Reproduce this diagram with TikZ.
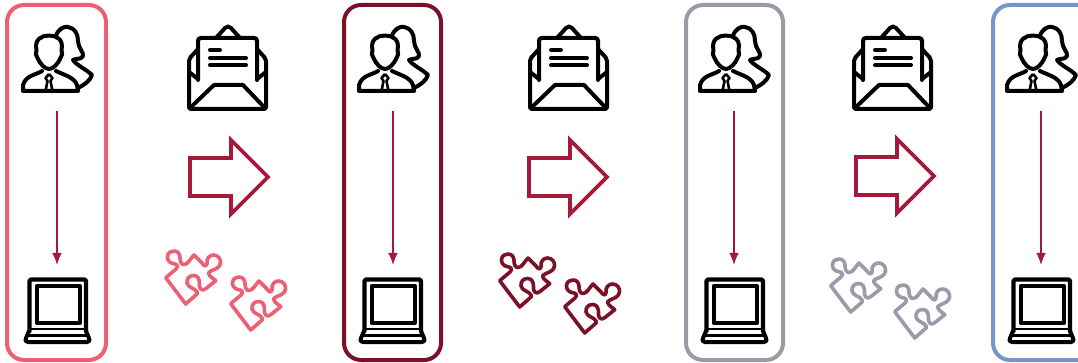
\documentclass[tikz,border=0pt]{standalone}
\usetikzlibrary{arrows.meta}
\definecolor{cpink}{HTML}{EC5F74}
\definecolor{cwine}{HTML}{7A1128}
\definecolor{cgrey}{HTML}{9A9AA8}
\definecolor{cblue}{HTML}{7A93C8}
\definecolor{cred}{HTML}{A5193A}
\tikzset{
  panel/.style={line width=4pt,rounded corners=17pt},
  link/.style={draw=cred,line width=1.3pt,-{Latex[length=12pt,width=9.5pt]}},
  icon/.style={line width=4pt,line cap=round,line join=round,black},
  bigarrow/.style={draw=cred,line width=3.8pt,line join=miter},
  puzz/.style={line width=3.6pt,line join=round,line cap=round},
  pics/person/.style={code={
    \draw[icon] (56,36) .. controls (58,29) and (64,26) .. (68,27) .. controls (75,28) and (78,34) .. (78,41)
      .. controls (78,48) and (84,52) .. (83,56) .. controls (81,60) and (76,58) .. (73,60)
      .. controls (76,65) and (86,69) .. (92,75) .. controls (90,81) and (84,85) .. (78,88);
    \draw[icon,fill=white] (36.5,50) .. controls (34,39) and (42,35.5) .. (49,35.5) .. controls (56,35.5) and (64,39) .. (61.5,50)
      .. controls (63,53) and (62,56) .. (60.5,58) .. controls (58,64) and (53,69) .. (49,69)
      .. controls (45,69) and (40,64) .. (37.5,58) .. controls (36,56) and (35,53) .. (36.5,50) -- cycle;
    \draw[icon] (42,71) .. controls (36,75) and (26,75) .. (23,85) -- (23,91) -- (78,91) -- (77,85)
      .. controls (74,77) and (64,75) .. (56,71);
    \draw[line width=2.6pt,line join=round,black] (49,74) -- (45.5,78) -- (47.5,81) -- (45.5,91) (49,74) -- (52.5,78) -- (50.5,81) -- (52.5,91) (45.5,91) -- (52.5,91);
  }},
  pics/envelope/.style={code={
    \draw[icon,rounded corners=2pt] (198,49) -- (189,59) -- (189,109) -- (266,109) -- (266,59) -- (257,49);
    \draw[icon] (189,72) -- (198,79) (266,72) -- (257,79);
    \draw[icon] (216,38) -- (225,28) .. controls (227,26) and (229,26) .. (231,28) -- (240,38);
    \draw[icon] (198,80) -- (198,41) .. controls (198,39) and (199,38) .. (201,38) -- (254,38) .. controls (256,38) and (257,39) .. (257,41) -- (257,80);
    \draw[icon] (191,107) -- (214,85) -- (243,85) -- (264,107);
    \draw[icon] (210,50) -- (220,50) (210,58) -- (246,58) (210,65) -- (246,65);
  }},
  pics/laptop/.style={code={
    \draw[icon,line width=4.4pt,rounded corners=2pt] (29.5,331) -- (29.5,279.5) -- (86,279.5) -- (86,331);
    \draw[icon] (36.5,286) rectangle (80,323);
    \draw[icon,line width=2.6pt] (29,329) -- (86,329);
    \draw[icon] (29,331) -- (26,338) .. controls (25,341) and (26,342) .. (28,342) -- (87,342) .. controls (89,342) and (90,341) .. (89,338) -- (86,331);
    \draw[icon,line width=2.6pt] (27,335.5) -- (88,335.5);
  }},
  pics/puzzle/.style={code={
    \draw[puzz,draw=#1] (166.7,277.7) -- (177,269)
      .. controls (180,266) and (178,264) .. (174,263.5)
      .. controls (170,263) and (168,259) .. (168.5,256.5)
      .. controls (169,252.5) and (172,251) .. (175,251)
      .. controls (179,251) and (181,254) .. (181,257.5)
      .. controls (181,261) and (182,264.5) .. (185,264.5)
      .. controls (189,264.5) and (191,259) .. (195,255)
      -- (203,263)
      .. controls (205,266) and (207,267) .. (208,264)
      .. controls (207,258) and (211,255) .. (214.5,255)
      .. controls (219,255) and (222,259) .. (221.5,263)
      .. controls (221,268) and (216,269) .. (212,271)
      .. controls (209,272.5) and (209,274) .. (211,276)
      -- (216.7,280.7) -- (207,288.5)
      .. controls (204,291) and (201,290) .. (200.5,286)
      .. controls (201,279) and (199,275.5) .. (194.5,275.5)
      .. controls (190,275.5) and (187.5,279) .. (188,283)
      .. controls (189,288) and (196,288) .. (198,292)
      .. controls (198.5,293) and (198.5,294) .. (197.5,294.5)
      -- (186.7,304) -- cycle;
  }},
  pics/bigarr/.style={code={
    \draw[bigarrow] (190,158) -- (231,158) -- (231,140) -- (268,177) -- (231,214) -- (231,196) -- (190,196) -- cycle;
  }},
}
\begin{document}
\begin{tikzpicture}[x=1pt,y=-1pt]
\useasboundingbox (0,0) rectangle (1078,363);
\draw[panel,draw=cpink] (7,5) rectangle (106,360);
\draw[panel,draw=cwine] (344,5) rectangle (441,360);
\draw[panel,draw=cgrey] (686,5) rectangle (783,360);
\draw[panel,draw=cblue] (993,5) rectangle (1110,360);
\foreach \dx/\ax/\lx in {0/57/0,336/393/335,677/734/677,984/1041/984}{
  \pic at (\dx,0) {person};
  \pic at (\lx,0) {laptop};
  \coordinate (a\ax) at (\ax,111);
  \coordinate (b\ax) at (\ax,265);
  \draw[link] (a\ax) -- (b\ax);
}
\foreach \dx in {0,341,665}{ \pic at (\dx,0) {envelope}; }
\pic at (0,0) {bigarr};
\pic at (339,0) {bigarr};
\pic at (666,-1) {bigarr};
\pic at (-1,0) {puzzle=cpink};
\pic at (64,26) {puzzle=cpink};
\pic at (333,3) {puzzle=cwine};
\pic at (398,29) {puzzle=cwine};
\pic at (664,8) {puzzle=cgrey};
\pic at (728,34) {puzzle=cgrey};
\end{tikzpicture}
\end{document}
